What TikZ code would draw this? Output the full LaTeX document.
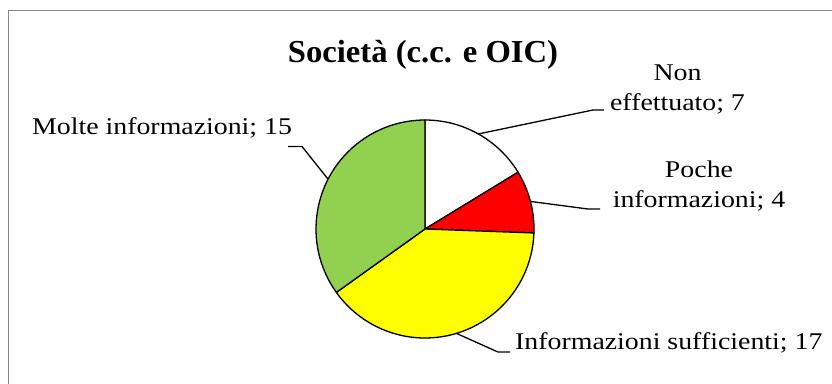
\documentclass[tikz,border=0pt]{standalone}
\usepackage{fontspec}
\setmainfont[FakeStretch=1.16]{Liberation Serif}
\newfontfamily\titlefont[FakeStretch=1.02]{Liberation Serif}
\usetikzlibrary{calc}
\definecolor{frameGrey}{HTML}{878787}
\definecolor{sliceGreen}{HTML}{92D050}
\definecolor{sliceRed}{HTML}{FF0000}
\definecolor{sliceYellow}{HTML}{FFFF00}
\begin{document}
\begin{tikzpicture}[x=1pt,y=-1pt,
  slice/.style={draw=black,line width=1.3pt,line join=round},
  leader/.style={draw=black,line width=1.3pt},
  lbl/.style={font=\fontsize{24}{30}\selectfont,inner sep=0pt,align=center},
  titletext/.style={font=\titlefont\bfseries\fontsize{32}{38}\selectfont,inner sep=0pt}]
\useasboundingbox (0,0) rectangle (832,383);
\clip (0,0) rectangle (832,383);
% chart area frame
\draw[frameGrey,line width=1.6pt] (8.5,10.5) rectangle (900,450);

\node[titletext,anchor=base] (title) at (423,62) {Società (c.c. e OIC)};

% pie: 7 + 4 + 17 + 15 = 43, clockwise from the top
\def\R{109}
\coordinate (pc) at (425,229);
\begin{scope}[shift={(pc)}]
  \filldraw[slice,fill=white]       (0,0) -- (-90:\R)     arc[start angle=-90,     end angle=-31.395, radius=\R] -- cycle;
  \filldraw[slice,fill=sliceRed]    (0,0) -- (-31.395:\R) arc[start angle=-31.395, end angle=2.093,   radius=\R] -- cycle;
  \filldraw[slice,fill=sliceYellow] (0,0) -- (2.093:\R)   arc[start angle=2.093,   end angle=144.419, radius=\R] -- cycle;
  \filldraw[slice,fill=sliceGreen]  (0,0) -- (144.419:\R) arc[start angle=144.419, end angle=270,     radius=\R] -- cycle;
  \coordinate (eNon)   at (-60.70:\R);
  \coordinate (ePoche) at (-14.65:\R);
  \coordinate (eSuff)  at (73.26:\R);
  \coordinate (eMolte) at (207.2:\R);
\end{scope}

% data labels (base = baseline of the last line)
\node[lbl,anchor=base] (lNon)   at (677.5,110) {Non\\effettuato; 7};
\node[lbl,anchor=base] (lPoche) at (699,207)   {Poche\\informazioni; 4};
\node[lbl,anchor=base west] (lMolte) at (32,134)  {Molte informazioni; 15};
\node[lbl,anchor=base west] (lSuff)  at (515,349) {Informazioni sufficienti; 17};

% leader lines
\coordinate (kNon)   at (593,110);   \coordinate (tNon)   at (604,110);
\coordinate (kPoche) at (588,209);   \coordinate (tPoche) at (600,209);
\coordinate (kSuff)  at (498,352);   \coordinate (tSuff)  at (510,352);
\coordinate (kMolte) at (302,146.5); \coordinate (tMolte) at (288,146.5);
\draw[leader] (eNon) -- (kNon) -- (tNon);
\draw[leader] (ePoche) -- (kPoche) -- (tPoche);
\draw[leader] (eSuff) -- (kSuff) -- (tSuff);
\draw[leader] (eMolte) -- (kMolte) -- (tMolte);
\end{tikzpicture}
\end{document}
